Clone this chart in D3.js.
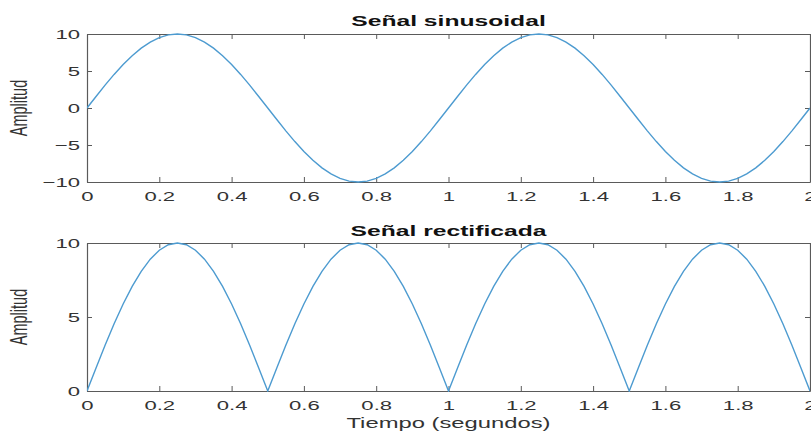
<!DOCTYPE html>
<html>
<head>
<meta charset="utf-8">
<script src="https://cdn.jsdelivr.net/npm/d3@7"></script>
<style>
  body { margin: 0; background: #fff; }
  svg { display: block; font-family: "Liberation Sans", Arial, sans-serif; }
</style>
</head>
<body>
<svg id="chart" width="811" height="438"></svg>
<script>
// sample times (s)
var tiempo = [0, 0.025, 0.05, 0.075, 0.1, 0.125, 0.15, 0.175, 0.2, 0.225, 0.25, 0.275, 0.3, 0.325, 0.35, 0.375, 0.4, 0.425, 0.45, 0.475, 0.5,
  0.525, 0.55, 0.575, 0.6, 0.625, 0.65, 0.675, 0.7, 0.725, 0.75, 0.775, 0.8, 0.825, 0.85, 0.875, 0.9, 0.925, 0.95, 0.975, 1,
  1.025, 1.05, 1.075, 1.1, 1.125, 1.15, 1.175, 1.2, 1.225, 1.25, 1.275, 1.3, 1.325, 1.35, 1.375, 1.4, 1.425, 1.45, 1.475, 1.5,
  1.525, 1.55, 1.575, 1.6, 1.625, 1.65, 1.675, 1.7, 1.725, 1.75, 1.775, 1.8, 1.825, 1.85, 1.875, 1.9, 1.925, 1.95, 1.975, 2];

// Señal sinusoidal
var senal = [0, 1.56, 3.09, 4.54, 5.88, 7.07, 8.09, 8.91, 9.51, 9.88, 10, 9.88, 9.51, 8.91, 8.09, 7.07, 5.88, 4.54, 3.09, 1.56, 0,
  -1.56, -3.09, -4.54, -5.88, -7.07, -8.09, -8.91, -9.51, -9.88, -10, -9.88, -9.51, -8.91, -8.09, -7.07, -5.88, -4.54, -3.09, -1.56, 0,
  1.56, 3.09, 4.54, 5.88, 7.07, 8.09, 8.91, 9.51, 9.88, 10, 9.88, 9.51, 8.91, 8.09, 7.07, 5.88, 4.54, 3.09, 1.56, 0,
  -1.56, -3.09, -4.54, -5.88, -7.07, -8.09, -8.91, -9.51, -9.88, -10, -9.88, -9.51, -8.91, -8.09, -7.07, -5.88, -4.54, -3.09, -1.56, 0];

// Señal rectificada
var rectificada = [0, 1.56, 3.09, 4.54, 5.88, 7.07, 8.09, 8.91, 9.51, 9.88, 10, 9.88, 9.51, 8.91, 8.09, 7.07, 5.88, 4.54, 3.09, 1.56, 0,
  1.56, 3.09, 4.54, 5.88, 7.07, 8.09, 8.91, 9.51, 9.88, 10, 9.88, 9.51, 8.91, 8.09, 7.07, 5.88, 4.54, 3.09, 1.56, 0,
  1.56, 3.09, 4.54, 5.88, 7.07, 8.09, 8.91, 9.51, 9.88, 10, 9.88, 9.51, 8.91, 8.09, 7.07, 5.88, 4.54, 3.09, 1.56, 0,
  1.56, 3.09, 4.54, 5.88, 7.07, 8.09, 8.91, 9.51, 9.88, 10, 9.88, 9.51, 8.91, 8.09, 7.07, 5.88, 4.54, 3.09, 1.56, 0];

var xTicks = [0, 0.2, 0.4, 0.6, 0.8, 1, 1.2, 1.4, 1.6, 1.8, 2];
var yTicksTop = [-10, -5, 0, 5, 10];
var yTicksBottom = [0, 5, 10];

var titles = ["Señal sinusoidal", "Señal rectificada"];
var yLabel = "Amplitud";
var xLabel = "Tiempo (segundos)";

// the reference is stretched horizontally, so text gets widened the same way
var SX = 1.7;
var axisColor = "#5a5a5a";
var lineColor = "#4d9bd0";

var svg = d3.select("#chart");
var left = 87, right = 810;

var panels = [
    { top: 34, bottom: 182, domain: [-10, 10], ticks: yTicksTop, values: senal, title: titles[0], titleY: 26 },
    { top: 243, bottom: 391, domain: [0, 10], ticks: yTicksBottom, values: rectificada, title: titles[1], titleY: 236 }
];

var fmt = d3.format("~g");

panels.forEach(function (p) {
    var x = d3.scaleLinear().domain([0, 2]).range([left, right]);
    var y = d3.scaleLinear().domain(p.domain).range([p.bottom, p.top]);
    var g = svg.append("g");

    // bottom axis with labels
    var xb = g.append("g")
        .attr("transform", "translate(0," + p.bottom + ")")
        .call(d3.axisBottom(x).tickValues(xTicks).tickFormat(fmt).tickSizeInner(-5).tickSizeOuter(0).tickPadding(10));
    // top axis, ticks only
    g.append("g")
        .attr("transform", "translate(0," + p.top + ")")
        .call(d3.axisTop(x).tickValues(xTicks).tickFormat("").tickSizeInner(-5).tickSizeOuter(0));
    // left axis with labels
    var yl = g.append("g")
        .attr("transform", "translate(" + left + ",0)")
        .call(d3.axisLeft(y).tickValues(p.ticks).tickFormat(fmt).tickSizeInner(-5).tickSizeOuter(0).tickPadding(7));
    // right axis, ticks only
    g.append("g")
        .attr("transform", "translate(" + right + ",0)")
        .call(d3.axisRight(y).tickValues(p.ticks).tickFormat("").tickSizeInner(-5).tickSizeOuter(0));

    g.selectAll(".domain").attr("stroke", axisColor).attr("stroke-width", 1.2);
    g.selectAll(".tick line").attr("stroke", axisColor);

    xb.selectAll("text")
        .attr("font-size", 13).attr("fill", "#333")
        .attr("transform", "scale(" + SX + ",1)");
    yl.selectAll("text")
        .attr("font-size", 13).attr("fill", "#333")
        .attr("x", -7 / SX)
        .attr("transform", "scale(" + SX + ",1)");

    // clip the curve to the axes box
    var clipId = "clip" + p.top;
    svg.append("clipPath").attr("id", clipId)
        .append("rect")
        .attr("x", left).attr("y", p.top - 1)
        .attr("width", right - left).attr("height", p.bottom - p.top + 2);

    var line = d3.line()
        .x(function (d, i) { return x(tiempo[i]); })
        .y(function (d) { return y(d); });

    svg.append("path")
        .datum(p.values)
        .attr("clip-path", "url(#" + clipId + ")")
        .attr("d", line)
        .attr("fill", "none")
        .attr("stroke", lineColor)
        .attr("stroke-width", 1.4);

    svg.append("text")
        .attr("transform", "translate(" + ((left + right) / 2) + "," + p.titleY + ") scale(" + SX + ",1)")
        .attr("text-anchor", "middle")
        .attr("font-size", 14.5)
        .attr("font-weight", "bold")
        .attr("fill", "#111")
        .text(p.title);

    svg.append("text")
        .attr("transform", "translate(27," + ((p.top + p.bottom) / 2) + ") scale(" + SX + ",1) rotate(-90)")
        .attr("text-anchor", "middle")
        .attr("font-size", 14.5)
        .attr("fill", "#333")
        .text(yLabel);
});

svg.append("text")
    .attr("transform", "translate(" + ((left + right) / 2) + ",428) scale(" + SX + ",1)")
    .attr("text-anchor", "middle")
    .attr("font-size", 14)
    .attr("fill", "#333")
    .text(xLabel);
</script>
</body>
</html>
